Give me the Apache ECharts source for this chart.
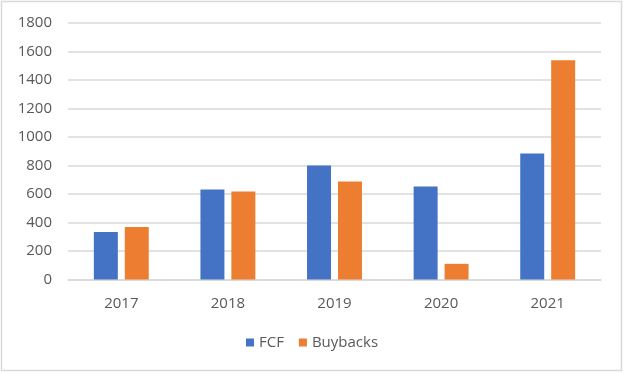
<!DOCTYPE html>
<html>
<head>
<meta charset="utf-8">
<script src="https://cdn.jsdelivr.net/npm/echarts@6/dist/echarts.min.js"></script>
<style>
  html, body { margin: 0; padding: 0; background: #fff; }
  #chart { width: 624px; height: 374px; }
</style>
</head>
<body>
<div id="chart"></div>
<script>
const categories = ['2017', '2018', '2019', '2020', '2021'];
const fcf = [334, 631, 800, 652, 884];
const buybacks = [369, 617, 687, 110, 1539];
const yTicks = { min: 0, max: 1800, interval: 200 };

const chart = echarts.init(document.getElementById('chart'), null, { renderer: 'canvas' });
const font = '"Open Sans", "Liberation Sans", sans-serif';
chart.setOption({
  animation: false,
  backgroundColor: '#ffffff',
  textStyle: { fontFamily: font },
  graphic: [{
    type: 'rect',
    shape: { x: 1.5, y: 1.5, width: 620, height: 369 },
    style: { fill: 'none', stroke: '#d9d9d9', lineWidth: 1.5 },
    silent: true
  }],
  grid: { left: 68, right: 23, top: 23, bottom: 94.5, containLabel: false },
  legend: {
    data: ['FCF', 'Buybacks'],
    bottom: 19,
    left: 'center',
    itemWidth: 8,
    itemHeight: 8,
    itemGap: 15,
    icon: 'rect',
    textStyle: { color: '#595959', fontSize: 15, fontFamily: font }
  },
  xAxis: {
    type: 'category',
    data: categories,
    axisTick: { show: false },
    axisLine: { show: true, lineStyle: { color: '#d9d9d9', width: 1.5 } },
    axisLabel: { color: '#595959', fontSize: 15, fontFamily: font, margin: 17 }
  },
  yAxis: {
    type: 'value',
    min: yTicks.min,
    max: yTicks.max,
    interval: yTicks.interval,
    axisLine: { show: false },
    axisTick: { show: false },
    splitLine: { lineStyle: { color: '#d9d9d9', width: 1.5 } },
    axisLabel: { color: '#595959', fontSize: 15, fontFamily: font, margin: 16,
      formatter: function (v) { return String(v); } }
  },
  series: [
    {
      name: 'FCF', type: 'bar', data: fcf,
      itemStyle: { color: '#4472C4' },
      barWidth: '22.5%', barGap: '29%'
    },
    {
      name: 'Buybacks', type: 'bar', data: buybacks,
      itemStyle: { color: '#ED7D31' },
      barWidth: '22.5%', barGap: '29%'
    }
  ]
});
</script>
</body>
</html>
